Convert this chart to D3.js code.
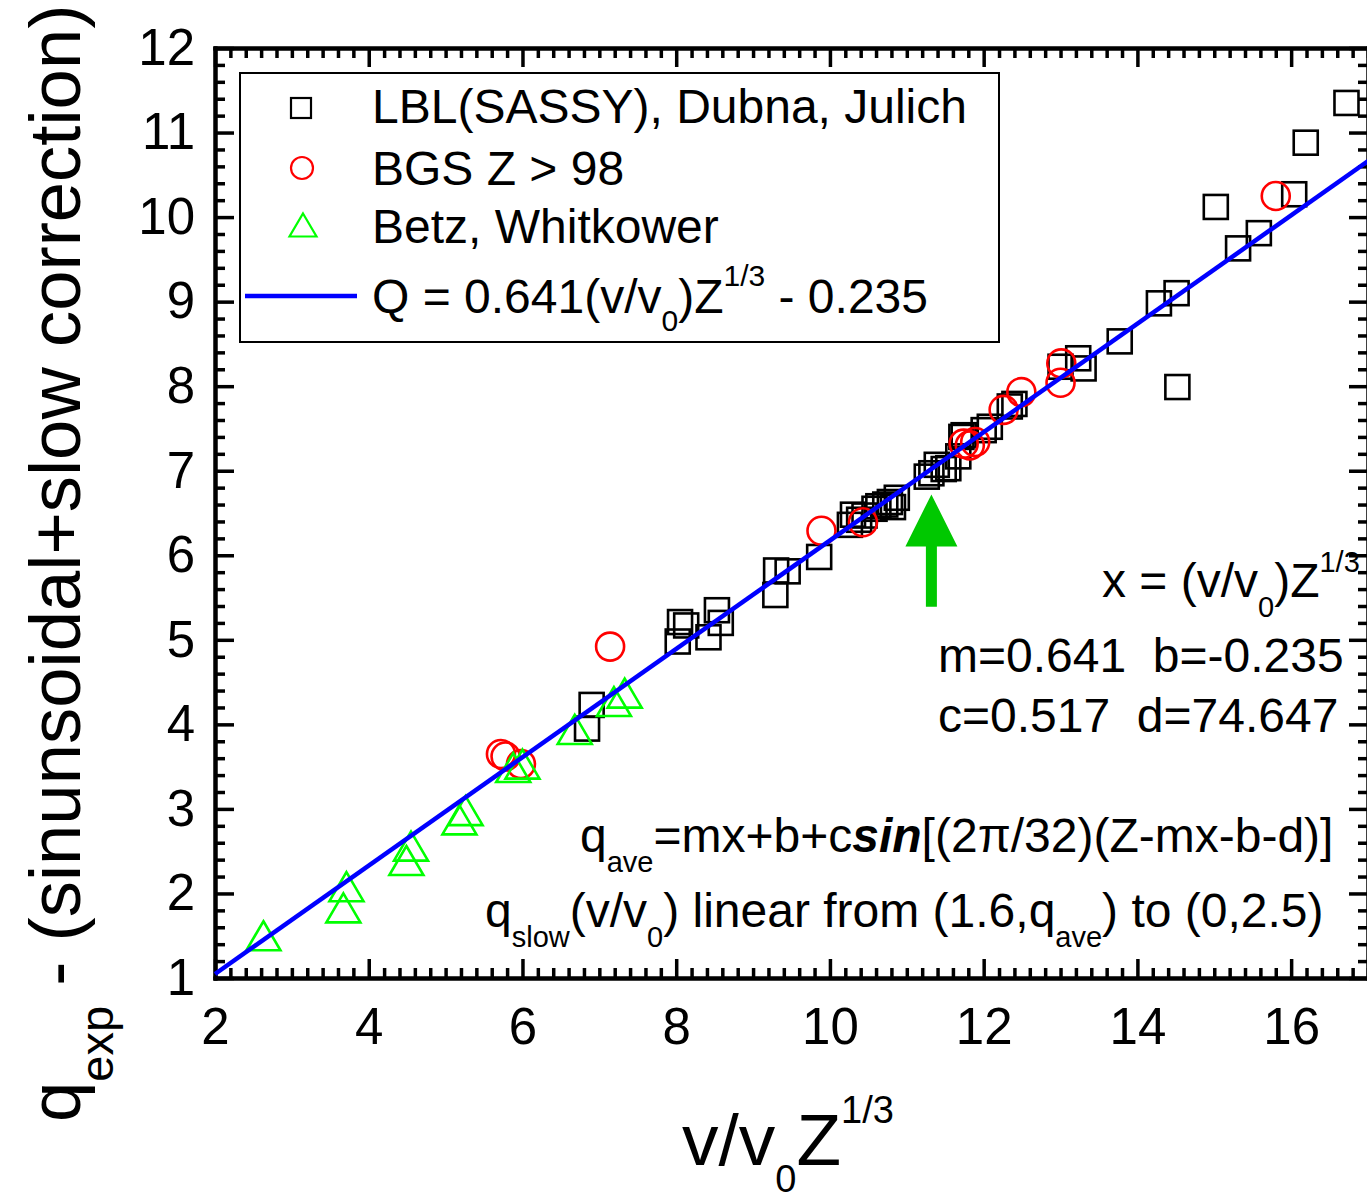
<!DOCTYPE html>
<html>
<head>
<meta charset="utf-8">
<script src="https://cdn.jsdelivr.net/npm/d3@7"></script>
<style>
  body { margin: 0; background: #fff; }
  svg { display: block; }
</style>
</head>
<body>
<div id="chart"></div>
<script>
// LBL(SASSY), Dubna, Julich
const squareX = [6.90, 6.84, 8.02, 8.05, 8.13, 8.42, 8.53, 8.58, 9.29, 9.30, 9.45, 9.86,
    10.26, 10.30, 10.38, 10.45, 10.58, 10.63, 10.72, 10.78, 10.82, 10.87,
    11.26, 11.32, 11.39, 11.48, 11.54, 11.67, 11.71, 11.74, 12.00, 12.08, 12.34, 12.40,
    13.00, 13.23, 13.30, 13.77, 14.28, 14.51, 14.52, 15.02, 15.31, 15.58, 16.04, 16.19, 16.72];
const squareY = [4.23, 3.95, 4.98, 5.21, 5.17, 5.03, 5.35, 5.20, 5.53, 5.82, 5.81, 5.98,
    6.36, 6.48, 6.42, 6.47, 6.55, 6.58, 6.60, 6.63, 6.57, 6.68,
    6.93, 6.97, 7.07, 7.02, 7.03, 7.17, 7.40, 7.42, 7.48, 7.52, 7.76, 7.79,
    8.23, 8.33, 8.21, 8.53, 8.98, 9.10, 7.99, 10.12, 9.63, 9.81, 10.27, 10.88, 11.35];

// BGS Z > 98
const circleX = [5.72, 5.78, 5.98, 7.14, 9.89, 10.43, 11.74, 11.82, 11.89, 12.26, 12.49, 13.01, 13.00, 15.80];
const circleY = [3.65, 3.62, 3.53, 4.92, 6.29, 6.39, 7.32, 7.30, 7.34, 7.72, 7.93, 8.27, 8.04, 10.25];

// Betz, Whitkower
const triangleX = [2.63, 3.71, 3.67, 4.55, 4.49, 5.26, 5.18, 5.88, 6.00, 6.68, 7.19, 7.33];
const triangleY = [1.50, 2.08, 1.83, 2.56, 2.39, 2.98, 2.87, 3.49, 3.53, 3.94, 4.27, 4.37];

// fit Q = m x + b
const fitM = 0.641;
const fitB = -0.235;

// green arrow (x, tip, tail) in data units
const arrowX = 11.32;
const arrowTipY = 6.72;
const arrowTailY = 5.39;

const xDomain = [2, 17];
const yDomain = [1, 12];
const xTickValues = [2, 4, 6, 8, 10, 12, 14, 16];
const yTickValues = [1, 2, 3, 4, 5, 6, 7, 8, 9, 10, 11, 12];

const FONT = "'Liberation Sans', Arial, Helvetica, sans-serif";
const W = 1367, H = 1199;
const margin = { top: 48, right: -1, bottom: 221, left: 215 };

const svg = d3.select("#chart").append("svg")
    .attr("width", W)
    .attr("height", H)
    .attr("font-family", FONT);

const x = d3.scaleLinear().domain(xDomain).range([margin.left, W - margin.right]);
const y = d3.scaleLinear().domain(yDomain).range([H - margin.bottom, margin.top]);

const xMinor = d3.range(xDomain[0], xDomain[1] + 0.001, 0.2).filter(v => Math.abs(v - Math.round(v / 2) * 2) > 0.01);
const yMinor = d3.range(yDomain[0], yDomain[1] + 0.001, 0.2).filter(v => Math.abs(v - Math.round(v)) > 0.01);

function styleAxis(g) {
    g.attr("font-family", FONT).attr("font-size", 51);
    g.select(".domain").attr("stroke-width", 4).attr("stroke-linecap", "square");
    g.selectAll(".tick line").attr("stroke-width", 3.5);
    g.selectAll(".tick text").attr("fill", "#000");
}

function addAxis(gen, tx, ty, values, size, labels, pad) {
    const axis = gen.tickValues(values).tickSize(-size).tickSizeOuter(0);
    if (labels) axis.tickPadding(pad); else axis.tickFormat("");
    svg.append("g").attr("transform", `translate(${tx},${ty})`).call(axis).call(styleAxis);
}

const yBottom = y(yDomain[0]), yTop = y(yDomain[1]);
const xLeft = x(xDomain[0]), xRight = x(xDomain[1]);

addAxis(d3.axisBottom(x), 0, yBottom, xMinor, 10, false);
addAxis(d3.axisBottom(x), 0, yBottom, xTickValues, 19, true, 30);
addAxis(d3.axisTop(x), 0, yTop, xMinor, 10, false);
addAxis(d3.axisTop(x), 0, yTop, xTickValues, 19, false);
addAxis(d3.axisLeft(y), xLeft, 0, yMinor, 10, false);
addAxis(d3.axisLeft(y), xLeft, 0, yTickValues, 19, true, 20);
addAxis(d3.axisRight(y), xRight, 0, yMinor, 10, false);
addAxis(d3.axisRight(y), xRight, 0, yTickValues, 19, false);

// markers
const SQ = 24, CR = 14, TW = 34, TH = 29;
function trianglePath(cx, cy, w, h) {
    return `M${cx},${cy - h / 2}L${cx + w / 2},${cy + h / 2}L${cx - w / 2},${cy + h / 2}Z`;
}

const plot = svg.append("g");

plot.selectAll("rect.sq").data(d3.zip(squareX, squareY)).join("rect")
    .attr("class", "sq")
    .attr("x", d => x(d[0]) - SQ / 2)
    .attr("y", d => y(d[1]) - SQ / 2)
    .attr("width", SQ).attr("height", SQ)
    .attr("fill", "none").attr("stroke", "#000").attr("stroke-width", 2.6);

plot.selectAll("circle.cr").data(d3.zip(circleX, circleY)).join("circle")
    .attr("class", "cr")
    .attr("cx", d => x(d[0]))
    .attr("cy", d => y(d[1]))
    .attr("r", CR)
    .attr("fill", "none").attr("stroke", "#ff0000").attr("stroke-width", 2.6);

plot.selectAll("path.tr").data(d3.zip(triangleX, triangleY)).join("path")
    .attr("class", "tr")
    .attr("d", d => trianglePath(x(d[0]), y(d[1]), TW, TH))
    .attr("fill", "none").attr("stroke", "#00ff00").attr("stroke-width", 2.6);

// fit line
const line = d3.line().x(d => x(d)).y(d => y(fitM * d + fitB));
plot.append("path")
    .attr("d", line(xDomain))
    .attr("fill", "none").attr("stroke", "#0000ff").attr("stroke-width", 4.5);

// arrow
const ax = x(arrowX), aTip = y(arrowTipY), aTail = y(arrowTailY);
const headH = 52, headW = 26, shaftW = 5.5;
plot.append("path")
    .attr("d", `M${ax},${aTip}L${ax + headW},${aTip + headH}L${ax + shaftW},${aTip + headH}` +
        `L${ax + shaftW},${aTail}L${ax - shaftW},${aTail}L${ax - shaftW},${aTip + headH}` +
        `L${ax - headW},${aTip + headH}Z`)
    .attr("fill", "#00c800");

// text with sub/superscripts
function rich(parent, tx, ty, parts, opt) {
    const t = parent.append("text")
        .attr("x", tx).attr("y", ty)
        .attr("font-size", opt.size)
        .attr("text-anchor", opt.anchor || "start")
        .attr("fill", "#000");
    if (opt.transform) t.attr("transform", opt.transform);
    let cur = 0;
    for (const p of parts) {
        const [str, mode] = typeof p === "string" ? [p, ""] : p;
        const target = mode === "sub" ? opt.sub : mode === "sup" ? -opt.sup : 0;
        const ts = t.append("tspan").attr("dy", target - cur).text(str);
        cur = target;
        if (mode === "sub" || mode === "sup") ts.attr("font-size", opt.small);
        if (mode === "bi") ts.attr("font-weight", "bold").attr("font-style", "italic");
    }
    return t;
}

// legend
const legend = svg.append("g");
legend.append("rect")
    .attr("x", 240).attr("y", 73).attr("width", 759).attr("height", 269)
    .attr("fill", "#fff").attr("stroke", "#000").attr("stroke-width", 2);
legend.append("rect").attr("x", 291).attr("y", 98).attr("width", 20).attr("height", 20)
    .attr("fill", "none").attr("stroke", "#000").attr("stroke-width", 2.2);
legend.append("circle").attr("cx", 302).attr("cy", 168).attr("r", 11)
    .attr("fill", "none").attr("stroke", "#ff0000").attr("stroke-width", 2.2);
legend.append("path").attr("d", trianglePath(303, 225, 27, 23))
    .attr("fill", "none").attr("stroke", "#00ff00").attr("stroke-width", 2.2);
legend.append("line").attr("x1", 245).attr("x2", 357).attr("y1", 296).attr("y2", 296)
    .attr("stroke", "#0000ff").attr("stroke-width", 4.5);

const legOpt = { size: 48, small: 30, sub: 18, sup: 27 };
rich(legend, 372, 123, ["LBL(SASSY), Dubna, Julich"], legOpt);
rich(legend, 372, 185, ["BGS Z > 98"], legOpt);
rich(legend, 372, 243, ["Betz, Whitkower"], legOpt);
rich(legend, 372, 313, ["Q = 0.641(v/v", ["0", "sub"], ")Z", ["1/3", "sup"], " - 0.235"], legOpt);

// annotations
const noteOpt = { size: 48, small: 29, sub: 20, sup: 25 };
rich(svg, 1102, 597, ["x = (v/v", ["0", "sub"], ")Z", ["1/3", "sup"]], noteOpt);
rich(svg, 938, 672, ["m=0.641  b=-0.235"], noteOpt).attr("xml:space", "preserve");
rich(svg, 938, 732, ["c=0.517  d=74.647"], noteOpt).attr("xml:space", "preserve");
rich(svg, 580, 852, ["q", ["ave", "sub"], "=mx+b+c", ["sin", "bi"], "[(2\u03c0/32)(Z-mx-b-d)]"], noteOpt);
rich(svg, 485, 927, ["q", ["slow", "sub"], "(v/v", ["0", "sub"], ") linear from (1.6,q", ["ave", "sub"], ") to (0,2.5)"], noteOpt);

// axis titles
rich(svg, 682, 1165, ["v/v", ["0", "sub"], "Z", ["1/3", "sup"]], { size: 73, small: 38, sub: 27, sup: 42 });
rich(svg, 0, 0, ["q", ["exp", "sub"], " - (sinunsoidal+slow correction)"],
    { size: 72.5, small: 47, sub: 33, sup: 0, transform: "translate(80,1122) rotate(-90)" });
</script>
</body>
</html>
